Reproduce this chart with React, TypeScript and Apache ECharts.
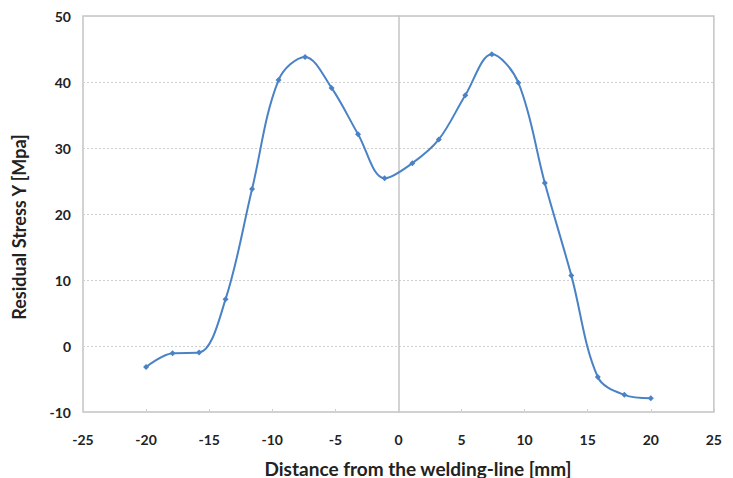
import React, { useEffect, useRef } from "react";
import * as echarts from "echarts";

const xValues = [-20, -17.9, -15.8, -13.7, -11.6, -9.5, -7.4, -5.3, -3.2, -1.1, 1.1, 3.2, 5.3, 7.4, 9.5, 11.6, 13.7, 15.8, 17.9, 20];
const stressY = [-3.2, -1.1, -1.0, 7.1, 23.8, 40.3, 43.8, 39.1, 32.1, 25.4, 27.7, 31.3, 38.0, 44.2, 39.9, 24.7, 10.7, -4.7, -7.4, -7.9];
const xTitle = "Distance from the welding-line [mm]";
const yTitle = "Residual Stress Y [Mpa]";

const FONT = "Lato, 'Open Sans', sans-serif";

export default function App() {
  const ref = useRef<HTMLDivElement>(null);
  useEffect(() => {
    document.documentElement.style.overflow = "hidden";
    const chart = echarts.init(ref.current!, null, { renderer: "svg" });
    chart.setOption({
      animation: false,
      grid: {
        left: 75,
        right: 1,
        top: 8,
        bottom: 66,
        show: true,
        borderColor: "#c4c4c4",
        borderWidth: 1.5,
      },
      xAxis: {
        type: "value",
        min: -25,
        max: 25,
        interval: 5,
        axisLine: { show: false, onZero: false },
        axisTick: { show: true, inside: true, length: 3, lineStyle: { color: "#d0d0d0" } },
        splitLine: { show: false },
        axisLabel: { margin: 20, color: "#222", fontSize: 14, fontWeight: "bold", fontFamily: FONT },
      },
      yAxis: {
        type: "value",
        min: -10,
        max: 50,
        interval: 10,
        axisLine: { show: true, onZero: true, lineStyle: { color: "#c4c4c4", width: 1.5 } },
        axisTick: { show: false },
        splitLine: { show: true, lineStyle: { color: "#cfcfcf", type: [2, 2], width: 1 } },
        axisLabel: { margin: 12, color: "#222", fontSize: 14, fontWeight: "bold", fontFamily: FONT },
      },
      graphic: [
        {
          type: "text",
          x: 410,
          y: 460,
          style: {
            text: xTitle,
            fill: "#222",
            font: `bold 19px ${FONT}`,
            align: "center",
            verticalAlign: "middle",
          },
        },
        {
          type: "text",
          x: 11,
          y: 219,
          rotation: Math.PI / 2,
          style: {
            text: yTitle,
            fill: "#222",
            font: `bold 18px ${FONT}`,
            align: "center",
            verticalAlign: "middle",
          },
        },
      ],
      series: [
        {
          type: "line",
          data: xValues.map((x, i) => [x, stressY[i]]),
          smooth: 0.35,
          symbol: "diamond",
          symbolSize: 6,
          lineStyle: { color: "#4a82c6", width: 2 },
          itemStyle: { color: "#4a82c6" },
        },
      ],
    });
    return () => chart.dispose();
  }, []);
  return (
    <div
      ref={ref}
      style={{ position: "absolute", left: 8, top: 8, width: 717, height: 470 }}
    />
  );
}
